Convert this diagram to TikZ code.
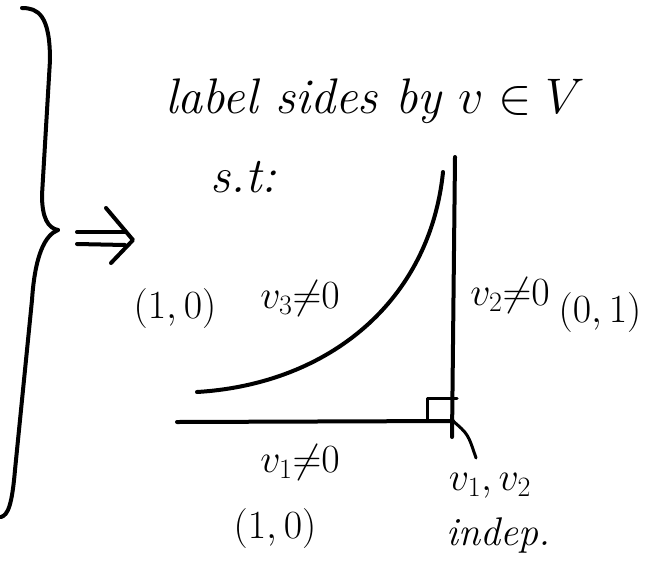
\RequirePackage{fix-cm}
\documentclass[tikz,border=0pt]{standalone}
\usetikzlibrary{arrows.meta}
\begin{document}
\begin{tikzpicture}[x=1pt,y=-1pt,
  stroke/.style={line width=4pt, line cap=round, line join=round},
  thinstroke/.style={line width=3pt, line cap=round, line join=round},
  head/.style={font=\fontsize{50}{58}\selectfont\itshape, inner sep=0pt, anchor=base west},
  lab/.style={font=\fontsize{40}{48}\selectfont, inner sep=0pt}]
\useasboundingbox (0,0) rectangle (652,573);
% big brace
\coordinate (btop) at (22,8);
\coordinate (bpt) at (58,230);
\coordinate (bbot) at (1,517);
\draw[stroke] (btop) .. controls (38,8) and (50,15) .. (50,60) -- (42,195) .. controls (42,218) and (48,228) .. (bpt);
\draw[stroke] (bpt) .. controls (45,235) and (35,255) .. (32,300) -- (15,470) .. controls (12,505) and (8,515) .. (bbot);
% implies arrow
\draw[stroke] (77,232) -- (125,232);
\draw[stroke] (77,244) -- (125,245);
\draw[stroke] (106,208) -- (133,240) -- (111,263);
% heading
\node[head] (title) at (165,113) {label sides by $v\in V$};
\node[head] (st) at (210,192) {s.t:};
% figure
\coordinate (vtop) at (455,157);
\coordinate (corner) at (453,421);
\coordinate (vbot) at (452,437);
\coordinate (hleft) at (177,422);
\coordinate (cleft) at (197,392);
\coordinate (ctop) at (443,172);
\coordinate (pend) at (476,458);
\draw[stroke] (vtop) -- (vbot);
\draw[stroke] (hleft) -- (corner);
\draw[stroke] (cleft) .. controls (330,384) and (430,300) .. (ctop);
\draw[thinstroke] (427,421) -- (427,398) -- (457,398);
% labels
\node[lab] (p10a) at (175,308) {$(1,0)$};
\node[lab] (v3) at (300,298) {$v_3{\neq}0$};
\node[lab] (v2) at (510,295) {$v_2{\neq}0$};
\node[lab] (p01) at (600,312) {$(0,1)$};
\node[lab] (v1) at (300,462) {$v_1{\neq}0$};
\node[lab] (p10b) at (275,528) {$(1,0)$};
\node[lab] (v12) at (490,486) {$v_1, v_2$};
\node[lab, font=\fontsize{40}{48}\selectfont\itshape] (indep) at (498,535) {indep.};
\draw[thinstroke] (corner) .. controls (468,434) .. (pend);
\end{tikzpicture}
\end{document}
